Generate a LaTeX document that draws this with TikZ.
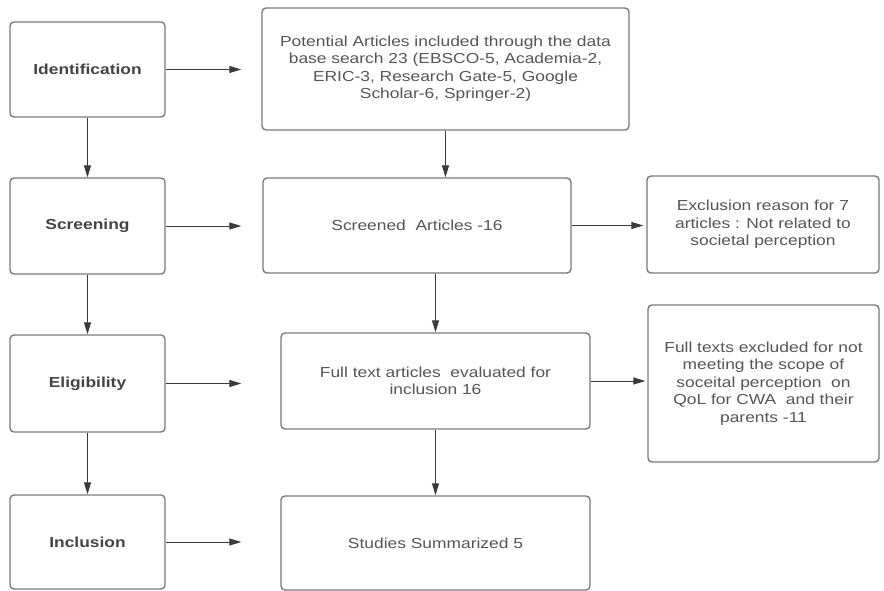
\documentclass[tikz,border=0pt]{standalone}
\usepackage{fontspec}
\setmainfont[FakeStretch=1.2]{Liberation Sans}
\usetikzlibrary{arrows.meta}
\definecolor{boxline}{HTML}{7A7A7A}
\definecolor{txt}{HTML}{555555}
\definecolor{btxt}{HTML}{444444}
\definecolor{arrc}{HTML}{3A3A3A}
\begin{document}
\begin{tikzpicture}[x=1pt,y=-1pt,
  box/.style={draw=boxline, line width=1.4pt, rounded corners=4pt, align=center,
    text=txt, font=\fontsize{14.5}{17.5}\selectfont, inner sep=0pt},
  stage/.style={box, minimum width=155pt, text=btxt, font=\fontsize{14.5}{17.5}\selectfont\bfseries},
  arr/.style={draw=arrc, line width=1pt, -{Triangle[length=12pt,width=7pt]}}]
\useasboundingbox (0,0) rectangle (884,591);
% stage boxes
\node[stage, minimum height=95pt] (id) at (87.5,69.5) {Identification};
\node[stage, minimum height=96pt] (sc) at (87.5,226) {Screening};
\node[stage, minimum height=97pt] (el) at (87.5,383.5) {Eligibility};
\node[stage, minimum height=94pt] (in) at (87.5,542) {Inclusion};
% middle boxes
\node[box, minimum width=367pt, minimum height=122pt] (top) at (445.5,69)
  {Potential Articles included through the data\\base search 23 (EBSCO-5, Academia-2,\\ERIC-3, Research Gate-5, Google\\Scholar-6, Springer-2)};
\node[box, minimum width=308pt, minimum height=95pt] (sa) at (417,225.5) {Screened\ \ Articles -16};
\node[box, minimum width=309pt, minimum height=96pt] (ft) at (435.5,381) {Full text articles\ \ evaluated for\\inclusion 16};
\node[box, minimum width=309pt, minimum height=94pt] (st) at (435.5,543) {Studies Summarized 5};
% right boxes
\node[box, minimum width=232pt, minimum height=97pt] (ex) at (763,224.5) {Exclusion reason for 7\\articles : Not related to\\societal perception};
\node[box, minimum width=231pt, minimum height=157pt] (fx) at (763.5,383.5) {Full texts excluded for not\\meeting the scope of\\soceital perception\ \ on\\QoL for CWA\ \ and their\\parents -11};
% vertical arrows
\draw[arr] (id) -- (sc);
\draw[arr] (sc) -- (el);
\draw[arr] (el) -- (in);
\draw[arr] (top.south) -- (top.south |- sa.north);
\draw[arr] (sa.south -| ft.north) -- (ft.north);
\draw[arr] (ft) -- (st);
% horizontal arrows
\draw[arr, shorten >=20pt] (id.east) -- (id.east -| top.west);
\draw[arr, shorten >=21pt] (sc.east) -- (sc.east -| sa.west);
\draw[arr, shorten >=39pt] (el.east) -- (el.east -| ft.west);
\draw[arr, shorten >=39pt] (in.east) -- (in.east -| st.west);
\draw[arr, shorten >=3pt] (sa.east) -- (sa.east -| ex.west);
\draw[arr, shorten >=2pt] (ft.east) -- (ft.east -| fx.west);
\end{tikzpicture}
\end{document}
